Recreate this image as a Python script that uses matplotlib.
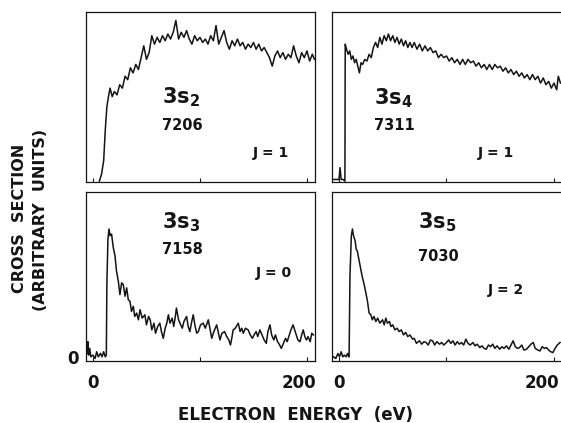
import matplotlib
matplotlib.use("Agg")
import matplotlib.pyplot as plt
import matplotlib.transforms as mtransforms

plt.rcParams['font.family'] = ['DejaVu Sans']
plt.rcParams['font.weight'] = 'bold'
plt.rcParams['mathtext.default'] = 'bf'

# energies (eV) and cross sections (arbitrary units, 0..1 of panel height)
e_3s2 = [6, 8, 10, 11.5, 13, 14.5, 16, 18, 20, 22.5, 25, 27.5, 30, 32.5, 35, 37.5, 40, 42.5,
         45, 47.5, 50, 52.5, 55, 57.5, 60, 62.5, 65, 67.5, 70, 72.5, 75, 77.5, 80, 82.5, 85,
         87.5, 90, 92.5, 95, 97.5, 100, 102.5, 105, 107.5, 110, 112.5, 115, 117.5, 120, 122.5,
         125, 127.5, 130, 132.5, 135, 137.5, 140, 142.5, 145, 147.5, 150, 152.5, 155, 157.5,
         160, 162.5, 165, 167.5, 170, 172.5, 175, 177.5, 180, 182.5, 185, 187.5, 190, 192.5,
         195, 197.5, 200, 202.5, 205, 207]
s_3s2 = [0.0, 0.04, 0.12, 0.30, 0.44, 0.50, 0.55, 0.50, 0.53, 0.51, 0.57, 0.55, 0.62, 0.60,
         0.67, 0.64, 0.69, 0.66, 0.73, 0.80, 0.72, 0.76, 0.86, 0.81, 0.85, 0.82, 0.86, 0.83,
         0.87, 0.84, 0.88, 0.95, 0.84, 0.88, 0.85, 0.89, 0.84, 0.81, 0.86, 0.83, 0.85, 0.82,
         0.84, 0.81, 0.86, 0.83, 0.92, 0.81, 0.85, 0.89, 0.82, 0.78, 0.83, 0.80, 0.84, 0.80,
         0.82, 0.78, 0.81, 0.79, 0.82, 0.78, 0.81, 0.77, 0.79, 0.76, 0.73, 0.68, 0.74, 0.77,
         0.73, 0.76, 0.72, 0.75, 0.73, 0.80, 0.74, 0.70, 0.76, 0.73, 0.77, 0.71, 0.75, 0.72]

e_3s4 = [-7, -3, 0, 1, 2, 4, 5.5, 5.8, 7, 8.5, 10, 11.5, 13, 14.5, 16, 17.5, 19, 20.5, 22, 24,
         26, 28, 30, 32, 34, 36, 38, 40, 42, 44, 46, 48, 50, 52, 54, 56, 58, 60, 62, 64, 66,
         68, 70, 72.5, 75, 77.5, 80, 82.5, 85, 87.5, 90, 92.5, 95, 97.5, 100, 102.5, 105,
         107.5, 110, 112.5, 115, 117.5, 120, 122.5, 125, 127.5, 130, 132.5, 135, 137.5, 140,
         142.5, 145, 147.5, 150, 152.5, 155, 157.5, 160, 162.5, 165, 167.5, 170, 172.5, 175,
         177.5, 180, 182.5, 185, 187.5, 190, 192.5, 195, 197.5, 200, 202.5, 204, 206]
s_3s4 = [0.01, 0.01, 0.01, 0.08, 0.01, 0.01, 0.0, 0.81, 0.78, 0.75, 0.77, 0.72, 0.74, 0.70,
         0.72, 0.68, 0.64, 0.70, 0.69, 0.72, 0.71, 0.75, 0.73, 0.79, 0.82, 0.79, 0.85, 0.81,
         0.86, 0.83, 0.87, 0.83, 0.86, 0.82, 0.85, 0.81, 0.84, 0.80, 0.83, 0.79, 0.82, 0.79,
         0.82, 0.78, 0.81, 0.77, 0.80, 0.77, 0.79, 0.76, 0.77, 0.73, 0.75, 0.73, 0.74, 0.71,
         0.73, 0.70, 0.72, 0.69, 0.72, 0.69, 0.72, 0.70, 0.71, 0.68, 0.70, 0.67, 0.69, 0.66,
         0.69, 0.66, 0.69, 0.67, 0.68, 0.65, 0.67, 0.64, 0.66, 0.63, 0.65, 0.62, 0.64, 0.61,
         0.63, 0.60, 0.63, 0.60, 0.62, 0.58, 0.61, 0.57, 0.59, 0.55, 0.58, 0.54, 0.62, 0.58]

e_3s3 = [-7, -5.5, -4.7, -4, -3, -2, 0, 2, 3.5, 5, 7, 8.5, 10, 11.5, 12.5, 13, 14, 15, 16, 17.4,
         19, 20.6, 22, 23.7, 25.2, 26.8, 28.3, 30, 31.5, 33, 34.6, 36, 37.7, 39, 40.8, 42.5,
         44, 46, 48.5, 50, 52, 53.5, 55, 57, 58.5, 60.5, 62.5, 64, 65.7, 67.5, 69, 70.5, 72,
         74, 75.5, 77, 78, 80, 82, 83.5, 85, 87.5, 89, 90.6, 92, 93.7, 95.5, 97, 98.5, 100.5,
         103, 105, 107.8, 109.5, 111, 113, 115.6, 117, 118.7, 120.5, 123, 125, 127, 128.5, 130,
         131, 133, 135.8, 137.5, 139, 140.5, 142.5, 145, 147, 149, 150.5, 152.5, 154, 156, 158,
         160, 162, 163.5, 165.4, 167, 169, 170.5, 172.5, 174.5, 176, 178, 180, 181.5, 183.5,
         185, 187, 188.5, 190, 191.5, 193.5, 195, 196.5, 198, 199.5, 201, 203, 204.5, 206]
s_3s3 = [0.02, 0.04, 0.11, 0.03, 0.07, 0.02, 0.03, 0.01, 0.05, 0.02, 0.04, 0.02, 0.05, 0.02,
         0.03, 0.45, 0.72, 0.78, 0.74, 0.75, 0.67, 0.62, 0.53, 0.47, 0.39, 0.46, 0.45, 0.38,
         0.43, 0.36, 0.35, 0.29, 0.32, 0.26, 0.28, 0.24, 0.30, 0.25, 0.27, 0.21, 0.26, 0.24,
         0.18, 0.22, 0.16, 0.20, 0.22, 0.17, 0.13, 0.19, 0.22, 0.27, 0.22, 0.25, 0.20, 0.26,
         0.31, 0.24, 0.21, 0.19, 0.23, 0.26, 0.20, 0.17, 0.22, 0.27, 0.20, 0.16, 0.17, 0.21,
         0.22, 0.19, 0.24, 0.18, 0.13, 0.17, 0.21, 0.17, 0.12, 0.16, 0.17, 0.14, 0.12, 0.09,
         0.14, 0.18, 0.19, 0.22, 0.17, 0.19, 0.16, 0.19, 0.18, 0.15, 0.13, 0.15, 0.17, 0.14,
         0.18, 0.15, 0.12, 0.10, 0.17, 0.21, 0.15, 0.12, 0.15, 0.11, 0.09, 0.07, 0.10, 0.13,
         0.11, 0.15, 0.18, 0.21, 0.18, 0.15, 0.12, 0.11, 0.15, 0.18, 0.14, 0.12, 0.14, 0.11,
         0.16, 0.15]

e_3s5 = [-7, -5, -3, -1, 0.5, 2, 3.5, 5, 6.5, 8, 9, 9.4, 10.2, 11.5, 12.5, 13.5, 15, 16, 17,
         18.5, 20, 21.5, 23.4, 25, 26.5, 28, 29.6, 31, 32.5, 34.3, 36, 38, 40.5, 42, 43.6, 45,
         47, 48.3, 50, 52, 54, 56, 58, 60, 62, 64, 66, 68.5, 70, 72, 74.8, 77, 79, 81, 83, 85,
         87, 89, 91, 93.5, 95.5, 97.5, 100, 102, 104, 106, 108, 110, 112, 114, 116, 118, 120,
         122, 124.6, 126.5, 128.5, 131, 133, 135, 137, 139, 141, 143, 145, 147, 149.5, 151.5,
         153.5, 155.8, 158, 160, 162, 164, 166, 168, 170, 172, 174.5, 176.5, 178.5, 180.7,
         182.5, 185, 187, 189, 191, 193, 195, 197, 199, 201, 203, 205.6]
s_3s5 = [0.01, 0.02, 0.01, 0.04, 0.02, 0.05, 0.02, 0.03, 0.02, 0.04, 0.02, 0.02, 0.50, 0.74,
         0.78, 0.74, 0.71, 0.66, 0.65, 0.60, 0.55, 0.50, 0.45, 0.40, 0.35, 0.28, 0.27, 0.24,
         0.26, 0.23, 0.25, 0.22, 0.24, 0.21, 0.25, 0.22, 0.23, 0.20, 0.21, 0.18, 0.19, 0.17,
         0.18, 0.15, 0.165, 0.14, 0.15, 0.125, 0.13, 0.10, 0.115, 0.095, 0.11, 0.105, 0.09,
         0.12, 0.115, 0.09, 0.11, 0.095, 0.105, 0.09, 0.105, 0.12, 0.10, 0.115, 0.09, 0.11,
         0.095, 0.105, 0.09, 0.125, 0.10, 0.09, 0.105, 0.085, 0.095, 0.075, 0.085, 0.07, 0.065,
         0.09, 0.08, 0.095, 0.07, 0.085, 0.065, 0.08, 0.07, 0.085, 0.065, 0.09, 0.115, 0.08,
         0.07, 0.075, 0.09, 0.06, 0.065, 0.08, 0.095, 0.105, 0.07, 0.06, 0.055, 0.08, 0.07,
         0.075, 0.06, 0.05, 0.045, 0.07, 0.09, 0.105]

state_names = ['3s$_2$', '3s$_4$', '3s$_3$', '3s$_5$']
state_codes = ['7206', '7311', '7158', '7030']
j_labels = ['J = 1', 'J = 1', 'J = 0', 'J = 2']

W, H = 561, 423
fig = plt.figure(figsize=(W / 100, H / 100), dpi=100)

# panel boxes in pixels: left, top, right, bottom (right panels run off the page)
boxes = [(86, 12, 315, 182), (332, 12, 564, 182), (86, 192, 315, 361), (332, 192, 564, 361)]
xmax = [207.5, 209.3, 207.5, 209.3]
shift_200 = [9, 5, 9, 5]   # px nudge of the "200" label
curves = [(e_3s2, s_3s2), (e_3s4, s_3s4), (e_3s3, s_3s3), (e_3s5, s_3s5)]
# text positions (axes fraction): name, code, J
name_pos = [(0.33, 0.50), (0.18, 0.49), (0.33, 0.82), (0.37, 0.82)]
code_pos = [(0.33, 0.33), (0.18, 0.33), (0.33, 0.66), (0.37, 0.62)]
j_pos = [(0.73, 0.17), (0.63, 0.17), (0.74, 0.52), (0.67, 0.42)]

ink = '#141414'
for i, (box, (e, s)) in enumerate(zip(boxes, curves)):
    l, t, r, b = box
    ax = fig.add_axes([l / W, (H - b) / H, (r - l) / W, (b - t) / H])
    ax.plot(e, s, color=ink, lw=1.1)
    ax.set_xlim(-6.5, xmax[i])
    ax.set_ylim(-0.005, 1.0)
    for sp in ax.spines.values():
        sp.set_linewidth(0.9)
        sp.set_color(ink)
    ax.set_xticks([0, 100, 200])
    ax.tick_params(axis='x', direction='in', length=3, width=0.8, colors=ink,
                   labelsize=12, pad=9)
    if i >= 2:
        ax.set_xticklabels(['0', '', '200'])
        lab = ax.get_xticklabels()[2]
        lab.set_ha('right')
        lab.set_transform(lab.get_transform() +
                          mtransforms.ScaledTranslation(shift_200[i] / 100, 0,
                                                        fig.dpi_scale_trans))
    else:
        ax.set_xticklabels([])
    if i == 2:
        ax.set_yticks([0.02])
        ax.set_yticklabels(['0'])
        ax.tick_params(axis='y', length=0, labelsize=12, pad=5, colors=ink)
    else:
        ax.set_yticks([])
    ax.text(*name_pos[i], state_names[i], transform=ax.transAxes, fontsize=15,
            fontweight='bold', color=ink, ha='left', va='center')
    ax.text(*code_pos[i], state_codes[i], transform=ax.transAxes, fontsize=10.5,
            fontweight='bold', color=ink, ha='left', va='center')
    ax.text(*j_pos[i], j_labels[i], transform=ax.transAxes, fontsize=10,
            fontweight='bold', color=ink, ha='left', va='center')

fig.text(20 / W, 1 - 218 / H, 'CROSS  SECTION', rotation=90, ha='center', va='center',
         fontsize=11.5, fontweight='bold', color=ink)
fig.text(41 / W, 1 - 220 / H, '(ARBITRARY  UNITS)', rotation=90, ha='center', va='center',
         fontsize=11.5, fontweight='bold', color=ink)
fig.text(295 / W, 1 - 415 / H, 'ELECTRON  ENERGY  (eV)', ha='center', va='center',
         fontsize=12, fontweight='bold', color=ink)

fig.savefig('out.png', dpi=100, facecolor='white')
